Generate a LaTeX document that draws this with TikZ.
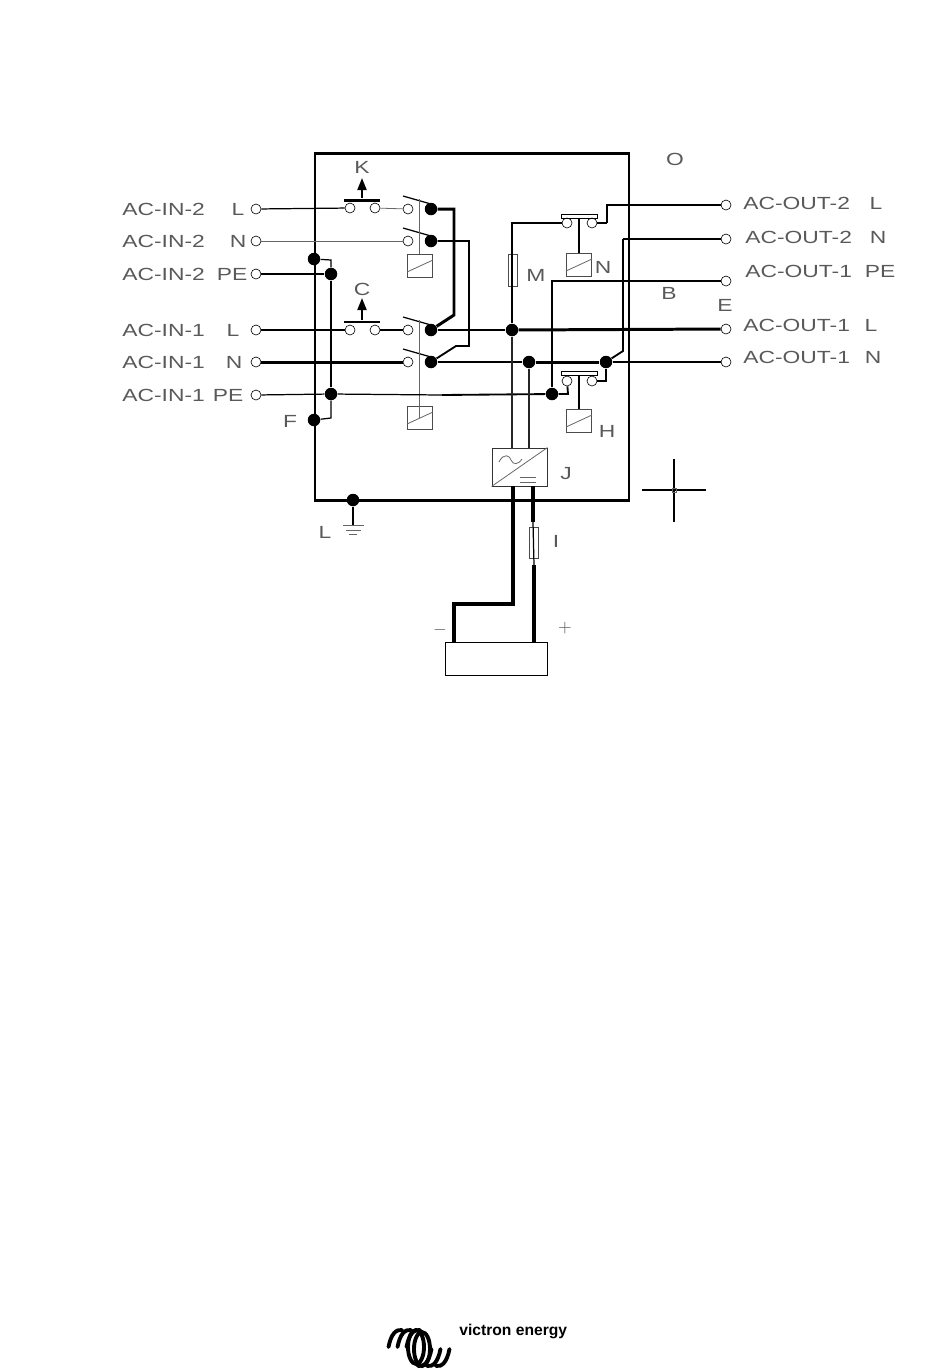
\documentclass[tikz,border=0pt]{standalone}
\usepackage{fontspec}
\usetikzlibrary{arrows.meta}
\newfontfamily\cadfont[FakeStretch=1.3]{Liberation Sans}
\newfontfamily\logofont{Liberation Sans}
\tikzset{
	term/.style={circle, draw, inner sep=0pt, minimum size=0.2cm, line width=0.35pt},
	jdot/.style={circle, fill=black, inner sep=0pt, minimum size=0.25cm},
	coil/.style={rectangle, draw=black!70, inner sep=0pt, minimum width=0.5cm, minimum height=0.46cm, line width=0.5pt},
	fuse/.style={rectangle, draw=black!70, inner sep=0pt, minimum width=0.18cm, minimum height=0.62cm, line width=0.4pt},
	hair/.style={black!60, line width=0.45pt},
	wire/.style={line width=0.7pt},
	midwire/.style={line width=1.05pt},
	heavy/.style={line width=1.7pt},
	lbl/.style={font=\cadfont\fontsize{10}{12}\selectfont, text=black!65, inner sep=0pt},
}
\begin{document}
\begin{tikzpicture}[x=0.02cm, y=-0.02cm]
\useasboundingbox (0,0) rectangle (950,1370);

% --- enclosure
\draw[heavy] (315,153) rectangle (629,500);

% --- input and output terminals
\foreach \name/\y in {inTwoL/209, inTwoN/241, inTwoPE/274, inOneL/330, inOneN/362, inOnePE/395}
	\node[term] (\name) at (256,\y) {};
\foreach \name/\y in {outTwoL/205, outTwoN/239, outOnePE/281, outOneL/329, outOneN/362}
	\node[term] (\name) at (726,\y) {};

% --- transfer switches: open contact, blade, closed contact
\foreach \name/\y in {swA/209, swB/241, swC/330, swD/362} {
	\node[term] (\name) at (408,\y) {};
	\node[jdot] (\name dot) at (431,\y) {};
	\draw[wire] (403,\y-13) -- (431,\y-5);
}

% --- coils
\foreach \name/\cx/\cy in {coilA/420/266, coilB/420/418, coilN/579/265, coilH/579/421} {
	\node[coil] (\name) at (\cx,\cy) {};
	\draw[hair] (\cx-13,\cy+6) -- (\cx+13,\cy-6);
}
\draw[hair] (419,199) -- (coilA.north -| 419,0);
\draw[hair] (419,320) -- (419,418);

% --- contactors K and C
\foreach \name/\y in {k/208, c/330} {
	\node[term] (\name L) at (350,\y) {};
	\node[term] (\name R) at (375,\y) {};
}
\node[rectangle, fill=black, inner sep=0pt, minimum width=0.72cm, minimum height=0.06cm] (kbar) at (362,200) {};
\node[rectangle, fill=black, inner sep=0pt, minimum width=0.72cm, minimum height=0.05cm] (cbar) at (362,322) {};
\coordinate (ktop) at (362,178);
\coordinate (ctop) at (362,298);
\draw[midwire, -{Triangle[length=0.24cm, width=0.18cm]}] (kbar) -- (ktop);
\draw[midwire, -{Triangle[length=0.24cm, width=0.18cm]}] (cbar) -- (ctop);

% --- contactors N and H
\foreach \name/\y in {n/223, h/381} {
	\node[term] (\name L) at (567,\y) {};
	\node[term] (\name R) at (592,\y) {};
}
\node[rectangle, draw, inner sep=0pt, minimum width=0.72cm, minimum height=0.08cm] (nbar) at (579,216) {};
\node[rectangle, draw, inner sep=0pt, minimum width=0.72cm, minimum height=0.08cm] (hbar) at (579,373) {};
\draw[wire] (nbar) -- (coilN);
\draw[wire] (hbar) -- (coilH);

% --- junction dots
\node[jdot] (peTop) at (314,259) {};
\node[jdot] (peTwo) at (331,274) {};
\node[jdot] (peOne) at (331,394) {};
\node[jdot] (peLow) at (314,420) {};
\node[jdot] (gnd) at (353,500) {};
\node[jdot] (lineDot) at (512,330) {};
\node[jdot] (neuDot) at (529,362) {};
\node[jdot] (neuOut) at (606,362) {};
\node[jdot] (peOut) at (552,394) {};

% --- inputs to contactors and switches
\draw[wire] (inTwoL) -- (kL);
\draw[hair] (kR) -- (swA);
\draw[hair] (inTwoN) -- (swB);
\draw[midwire] (inOneL) -- (cL);
\draw[midwire] (cR) -- (swC);
\draw[heavy] (inOneN) -- (swD);

% --- protective earth
\draw[midwire] (inTwoPE) -- (peTwo);
\draw[wire] (inOnePE) -- (peOne);
\coordinate (peTopCorner) at (331,260);
\coordinate (peLowCorner) at (331,418);
\draw[wire] (peTop) -- (peTopCorner) -- (peTwo);
\draw[midwire] (peTwo) -- (peOne);
\draw[wire] (peOne) -- (peLowCorner) -- (peLow);
\coordinate (peMid) at (442,395);
\draw[wire] (peOne) -- (peMid);
\draw[midwire] (peMid) -- (peOut);

% --- links between the switches
\coordinate (aRight) at (454,209);
\coordinate (aLow) at (454,315);
\draw[heavy] (swAdot) -- (aRight) -- (aLow) -- (swCdot);
\coordinate (bRight) at (469,241);
\coordinate (bLow) at (469,346);
\coordinate (bBend) at (456,346);
\draw[midwire] (swBdot) -- (bRight) -- (bLow) -- (bBend) -- (swDdot);

% --- line and neutral rails
\draw[wire] (swCdot) -- (lineDot);
\draw[heavy] (lineDot) -- (outOneL);
\draw[wire] (swDdot) -- (neuDot);
\draw[heavy] (neuDot) -- (neuOut);
\draw[wire] (neuOut) -- (outOneN);

% --- fuse M and contactor N
\node[fuse, minimum height=0.64cm] (fuseM) at (513,270) {};
\coordinate (mTop) at (512,223);
\coordinate (mLow) at (512,290);
\draw[wire] (nL) -- (mTop) -- (mLow);
\draw[heavy] (mLow) -- (lineDot);
\coordinate (nOutA) at (607,223);
\coordinate (nOutB) at (607,205);
\draw[midwire] (nR) -- (nOutA);
\draw[wire] (nOutA) -- (nOutB) -- (outTwoL);

% --- output neutral 2 and output earth
\coordinate (oTop) at (623,239);
\coordinate (oLow) at (623,351);
\draw[wire] (outTwoN) -- (oTop);
\draw[midwire] (oTop) -- (oLow) -- (neuOut);
\coordinate (pTop) at (552,281);
\draw[midwire] (outOnePE) -- (pTop) -- (peOut);

% --- contactor H wiring
\coordinate (hOut) at (606,381);
\draw[wire] (hR) -- (hOut) -- (neuOut);
\coordinate (hLeft) at (568,394);
\draw[midwire] (hL) -- (hLeft) -- (peOut);

% --- inverter J
\node[rectangle, draw=black!80, inner sep=0pt, minimum width=1.1cm, minimum height=0.76cm, line width=0.5pt] (inv) at (519.5,467) {};
\draw[hair] (inv.south west) -- (inv.north east);
\draw[hair] (499,462) .. controls (504,452) and (510,456) .. (511,460) .. controls (513,465) and (518,465) .. (522,459);
\draw[hair] (520,477) -- (536,477);
\draw[hair] (520,482) -- (536,482);
\draw[midwire, black!85] (lineDot) -- (lineDot |- inv.north);
\draw[midwire, black!85] (neuDot) -- (neuDot |- inv.north);

% --- battery
\node[rectangle, draw, inner sep=0pt, minimum width=2.04cm, minimum height=0.66cm, line width=0.5pt] (batt) at (496,658.5) {};
\coordinate (negA) at (513,486);
\coordinate (negB) at (513,604);
\coordinate (negC) at (454,604);
\coordinate (negD) at (454,642);
\draw[line width=2.1pt] (negA) -- (negB) -- (negC) -- (negD);
\node[fuse] (fuseI) at (534,543) {};
\coordinate (posA) at (533,486);
\coordinate (posB) at (533,522);
\coordinate (posC) at (534,565);
\coordinate (posD) at (534,642);
\draw[line width=2.1pt] (posA) -- (posB);
\draw[wire] (posB) -- (posC);
\draw[line width=2.1pt] (posC) -- (posD);

% --- earth symbol
\coordinate (gndEnd) at (353,525);
\draw[wire] (gnd) -- (gndEnd);
\draw[hair] (343,525) -- (364,525);
\draw[hair] (346,530) -- (361,530);
\draw[hair] (349,534) -- (357,534);

% --- crosshair
\draw[wire] (642,490) -- (706,490);
\draw[wire] (674,459) -- (674,522);
\draw[hair] (672,488) rectangle (676,492);

% --- left labels
\foreach \name/\y/\txt/\sx/\sfx in {
	lInTwoL/209/AC-IN-2/238/L,
	lInTwoN/241/AC-IN-2/238/N,
	lInTwoPE/274/AC-IN-2/232/PE,
	lInOneL/330/AC-IN-1/233/L,
	lInOneN/362/AC-IN-1/234/N,
	lInOnePE/395/AC-IN-1/228/PE} {
	\node[lbl, anchor=west] (\name) at (122,\y) {\txt};
	\node[lbl] (\name s) at (\sx,\y) {\sfx};
}

% --- right labels
\foreach \name/\lx/\y/\txt/\sx/\sfx in {
	lOutTwoL/743/203/AC-OUT-2/876/L,
	lOutTwoN/745/237/AC-OUT-2/878/N,
	lOutOnePE/745/271/AC-OUT-1/880/PE,
	lOutOneL/743/325/AC-OUT-1/871/L,
	lOutOneN/743/357/AC-OUT-1/873/N} {
	\node[lbl, anchor=west] (\name) at (\lx,\y) {\txt};
	\node[lbl] (\name s) at (\sx,\y) {\sfx};
}

% --- letters
\foreach \name/\lx/\ly in {K/362/167, C/362/289, N/603/267, M/536/275, H/607/431,
	J/566/474, I/556/541, L/325/532, F/290/421, B/669/293, E/725/305, O/675/159}
	\node[lbl] (txt\name) at (\lx,\ly) {\name};
\node[lbl] (txtMinus) at (440,630) {$-$};
\node[lbl] (txtPlus) at (565,628) {$+$};

% --- logo
\foreach \dx in {0,9,18} {
	\draw[line width=2.2pt, line cap=round] (388.5+\dx,1347) .. controls (391+\dx,1334) and (396+\dx,1329) .. (402+\dx,1330);
	\draw[line width=2.2pt, line cap=round] (449.5-\dx,1349) .. controls (447-\dx,1362) and (442-\dx,1367) .. (436-\dx,1366);
}
\draw[line width=2.2pt] (416,1347) ellipse (8 and 17);
\draw[line width=2.2pt] (422,1349) ellipse (8 and 17);
\node[anchor=west, inner sep=0pt, font=\logofont\bfseries\fontsize{8.9}{10}\selectfont] (logoText) at (459,1331) {victron energy};
\end{tikzpicture}
\end{document}
